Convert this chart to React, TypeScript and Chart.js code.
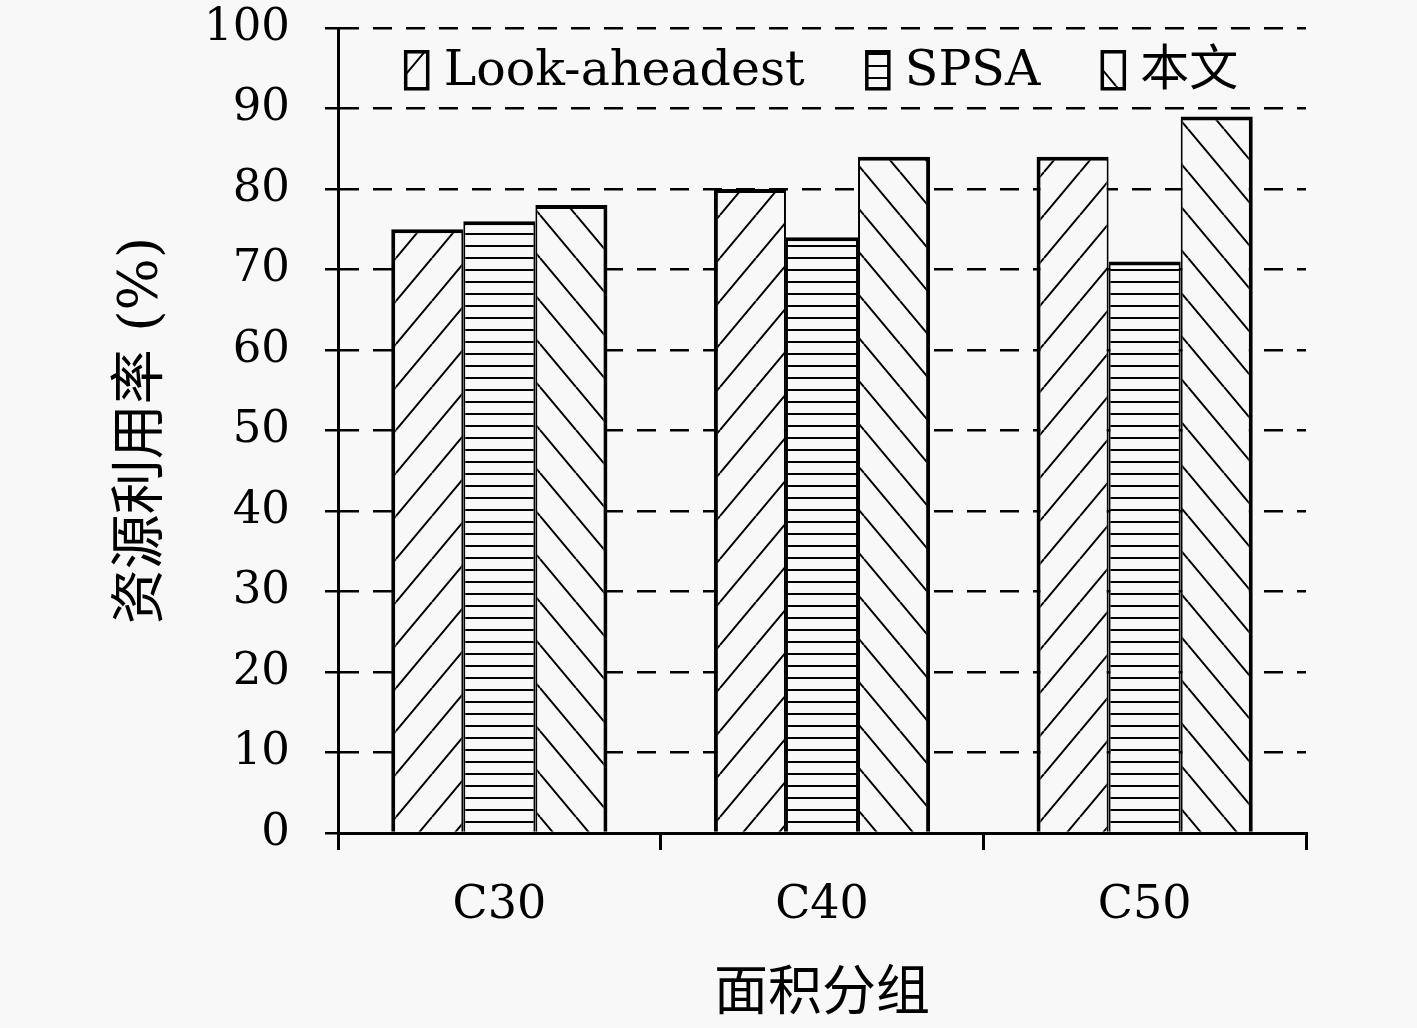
import { useEffect, useRef } from "react";
import { Chart, registerables } from "chart.js";

Chart.register(...registerables);

const categories = ["C30", "C40", "C50"];
const seriesNames = ["Look-aheadest", "SPSA", "本文"];
const lookAheadValues = [75, 80, 84];
const spsaValues = [76, 74, 71];
const oursValues = [78, 84, 89];
const yMin = 0;
const yMax = 100;
const yStep = 10;
const xTitle = "面积分组";
const yTitle = "资源利用率 (%)";

const BG = "#f8f8f8";
const FAMILY = '"DejaVu Serif", "Noto Sans CJK SC", serif';

type Kind = "fwd" | "back" | "horiz";

function makePattern(kind: Kind): CanvasPattern | string {
  const c = document.createElement("canvas");
  let w = 36;
  let h = 43;
  if (kind === "horiz") {
    w = 8;
    h = 12;
  }
  c.width = w;
  c.height = h;
  const g = c.getContext("2d");
  if (!g) return BG;
  g.fillStyle = BG;
  g.fillRect(0, 0, w, h);
  g.strokeStyle = "#000";
  g.lineWidth = 2;
  g.beginPath();
  if (kind === "horiz") {
    g.moveTo(0, h / 2);
    g.lineTo(w, h / 2);
  } else if (kind === "fwd") {
    for (let k = -1; k <= 1; k++) {
      g.moveTo(k * w, h);
      g.lineTo(k * w + w, 0);
    }
  } else {
    for (let k = -1; k <= 1; k++) {
      g.moveTo(k * w, 0);
      g.lineTo(k * w + w, h);
    }
  }
  g.stroke();
  const p = g.createPattern(c, "repeat");
  return p || BG;
}

export default function App() {
  const ref = useRef<HTMLCanvasElement | null>(null);

  useEffect(() => {
    document.body.style.margin = "0";
    document.body.style.background = BG;
    const canvas = ref.current;
    if (!canvas) return;

    const patterns = [makePattern("fwd"), makePattern("horiz"), makePattern("back")];

    const bgPlugin = {
      id: "bgFill",
      beforeDraw(chart: any) {
        const ctx = chart.ctx;
        ctx.save();
        ctx.fillStyle = BG;
        ctx.fillRect(0, 0, chart.width, chart.height);
        ctx.restore();
      },
    };

    const legendPlugin = {
      id: "insideLegend",
      afterDraw(chart: any) {
        const ctx = chart.ctx;
        const area = chart.chartArea;
        const yScale = chart.scales.y;
        const cy = yScale.getPixelForValue(94.5);
        ctx.save();
        ctx.font = `49px ${FAMILY}`;
        const boxW = 22;
        const boxH = 37;
        const gap = 16;
        const spacing = 62;
        const widths = seriesNames.map((n) => ctx.measureText(n).width);
        const total =
          widths.reduce((a, w) => a + boxW + gap + w, 0) + spacing * (seriesNames.length - 1);
        let x = (area.left + area.right) / 2 - total / 2;
        seriesNames.forEach((name, i) => {
          ctx.fillStyle = patterns[i] as any;
          ctx.fillRect(x, cy - boxH / 2 - 2, boxW, boxH);
          ctx.strokeStyle = "#000";
          ctx.lineWidth = 3.5;
          ctx.strokeRect(x, cy - boxH / 2 - 2, boxW, boxH);
          ctx.fillStyle = "#000";
          ctx.textBaseline = "middle";
          ctx.textAlign = "left";
          ctx.fillText(name, x + boxW + gap, cy);
          x += boxW + gap + widths[i] + spacing;
        });
        ctx.restore();
      },
    };

    const values = [lookAheadValues, spsaValues, oursValues];
    const borders = [
      { top: 4, left: 4, right: 2, bottom: 0 },
      { top: 4, left: 2, right: 2, bottom: 0 },
      { top: 4, left: 2, right: 4, bottom: 0 },
    ];

    const chart = new Chart(canvas, {
      type: "bar",
      data: {
        labels: categories,
        datasets: seriesNames.map((name, i) => ({
          label: name,
          data: values[i],
          backgroundColor: patterns[i] as any,
          borderColor: "#000",
          borderWidth: borders[i] as any,
          borderSkipped: false as any,
          categoryPercentage: 0.67,
          barPercentage: 1,
        })),
      },
      options: {
        animation: false,
        responsive: true,
        maintainAspectRatio: false,
        devicePixelRatio: 1,
        layout: { padding: { top: 28, right: 111, bottom: 0, left: 0 } },
        plugins: {
          legend: { display: false },
          tooltip: { enabled: false },
        },
        scales: {
          x: {
            offset: true,
            ticks: {
              color: "#000",
              font: { family: FAMILY, size: 46 },
              padding: 28,
            },
            grid: {
              offset: true,
              drawOnChartArea: false,
              drawTicks: true,
              tickLength: 17,
              tickWidth: 3,
              tickColor: "#000",
              color: "#000",
              lineWidth: 3,
            },
            border: { display: true, color: "#000", width: 3 },
            title: {
              display: true,
              text: xTitle,
              color: "#000",
              font: { family: FAMILY, size: 54 },
              padding: { top: 0, bottom: 0 },
            },
            afterFit: (s: any) => {
              s.height = 195;
              s.paddingLeft = 0;
              s.paddingRight = 0;
            },
          },
          y: {
            min: yMin,
            max: yMax,
            ticks: {
              stepSize: yStep,
              color: "#000",
              font: { family: FAMILY, size: 45 },
              padding: 35,
            },
            grid: {
              color: "#000",
              lineWidth: 2.5,
              drawTicks: true,
              tickLength: 13,
              tickWidth: 2.5,
              tickColor: "#000",
              tickBorderDash: [],
            },
            border: { display: true, color: "#000", width: 3, dash: [19, 14] },
            title: {
              display: true,
              text: yTitle,
              color: "#000",
              font: { family: FAMILY, size: 55 },
              padding: { top: 110, bottom: 0 },
            },
            afterFit: (s: any) => {
              s.width = 338;
              s.paddingTop = 0;
              s.paddingBottom = 0;
            },
          },
        },
      },
      plugins: [bgPlugin, legendPlugin],
    } as any);

    return () => chart.destroy();
  }, []);

  return (
    <div style={{ width: 1417, height: 1028, position: "relative", background: BG }}>
      <canvas ref={ref} />
    </div>
  );
}
